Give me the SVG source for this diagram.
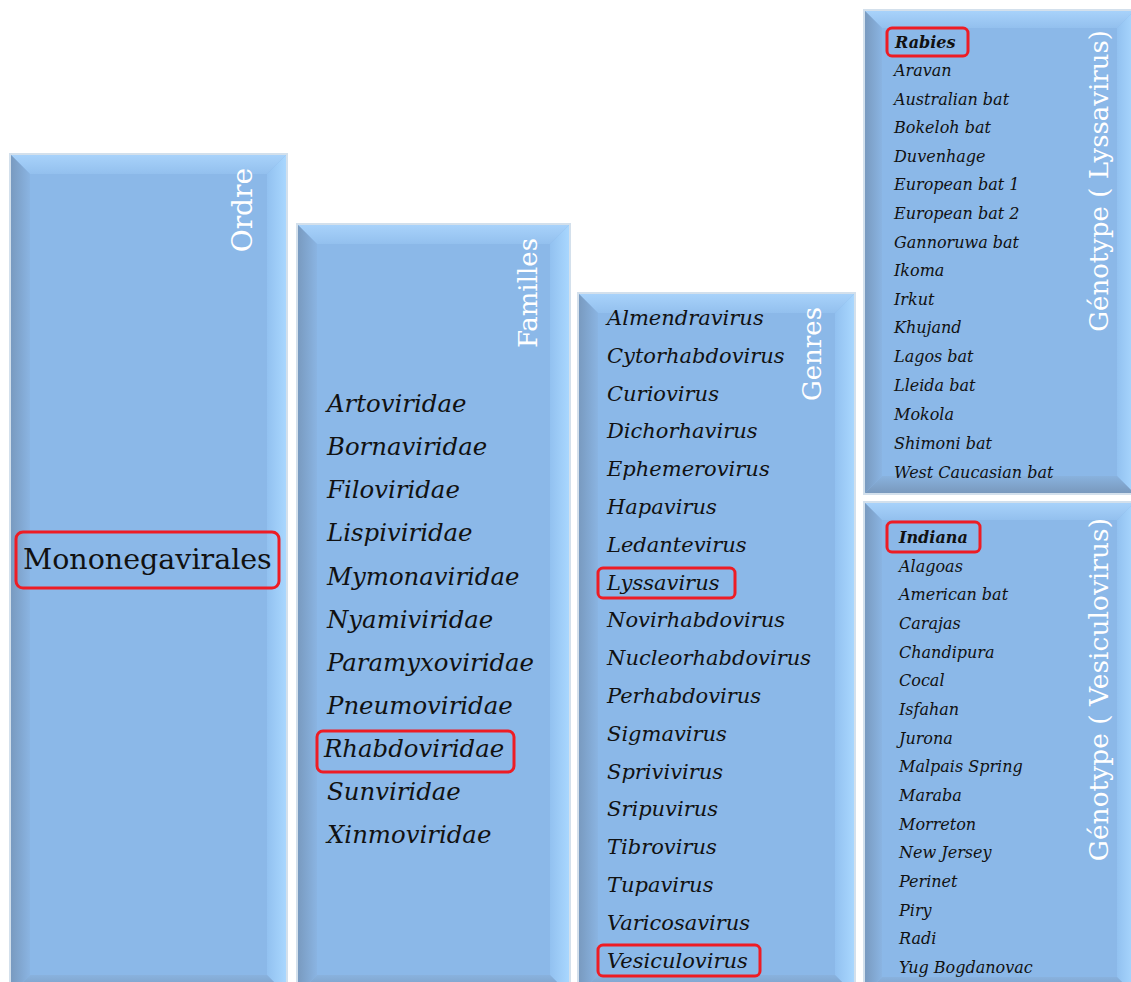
<svg xmlns="http://www.w3.org/2000/svg" width="1131" height="982" viewBox="0 0 1131 982">
<defs>
<linearGradient id="gT" x1="0" y1="0" x2="0" y2="1"><stop offset="0" stop-color="#a9d3fb"/><stop offset="1" stop-color="#93c0ee"/></linearGradient>
<linearGradient id="gL" x1="0" y1="0" x2="1" y2="0"><stop offset="0" stop-color="#7899be"/><stop offset="1" stop-color="#8ab4e2"/></linearGradient>
<linearGradient id="gR" x1="0" y1="0" x2="1" y2="0"><stop offset="0" stop-color="#92c1f0"/><stop offset="1" stop-color="#aad8ff"/></linearGradient>
<linearGradient id="gB" x1="0" y1="0" x2="0" y2="1"><stop offset="0" stop-color="#89b2de"/><stop offset="1" stop-color="#7897bb"/></linearGradient>
</defs>
<style>
.frame{fill:none;stroke:#d3e0ec;stroke-width:2}
.face{fill:#8bb8e8}
.bt{fill:url(#gT)}
.bl{fill:url(#gL)}
.br{fill:url(#gR)}
.bb{fill:url(#gB)}
.title{font-family:"DejaVu Serif","Liberation Serif",serif;font-size:26px;fill:#ffffff;text-anchor:end}
.fam{font-family:"DejaVu Serif","Liberation Serif",serif;font-style:italic;font-size:24.4px;fill:#111111}
.gen{font-family:"DejaVu Serif","Liberation Serif",serif;font-style:italic;font-size:21px;fill:#111111}
.geno{font-family:"DejaVu Serif","Liberation Serif",serif;font-style:italic;font-size:16px;fill:#111111}
.bold{font-weight:bold}
.order{font-family:"DejaVu Serif","Liberation Serif",serif;font-size:28.5px;fill:#111111}
.hl{fill:none;stroke:#ee1c24;stroke-width:3}
</style>
<rect x="0" y="0" width="1131" height="982" fill="#ffffff"/>

<g id="ordre">
<rect class="face" x="10" y="154" width="277" height="841"/>
<polygon class="bt" points="10,154 287,154 267,174 30,174"/>
<polygon class="bl" points="10,154 30,174 30,975 10,995"/>
<polygon class="br" points="287,154 287,995 267,975 267,174"/>
<polygon class="bb" points="10,995 30,975 267,975 287,995"/>
<rect class="frame" x="10" y="154" width="277" height="841"/>
<text class="title" style="font-size:28px" transform="translate(252,168) rotate(-90)">Ordre</text>
<rect class="hl" x="16" y="532" width="263" height="56" rx="7"/>
<text class="order" x="23" y="569">Mononegavirales</text>
</g>

<g id="familles">
<rect class="face" x="297" y="224" width="273" height="771"/>
<polygon class="bt" points="297,224 570,224 550,244 317,244"/>
<polygon class="bl" points="297,224 317,244 317,975 297,995"/>
<polygon class="br" points="570,224 570,995 550,975 550,244"/>
<polygon class="bb" points="297,995 317,975 550,975 570,995"/>
<rect class="frame" x="297" y="224" width="273" height="771"/>
<text class="title" transform="translate(537,238) rotate(-90)">Familles</text>
<text class="fam" x="327" y="412">Artoviridae</text>
<text class="fam" x="327" y="455">Bornaviridae</text>
<text class="fam" x="327" y="498">Filoviridae</text>
<text class="fam" x="327" y="541">Lispiviridae</text>
<text class="fam" x="327" y="585">Mymonaviridae</text>
<text class="fam" x="327" y="628">Nyamiviridae</text>
<text class="fam" x="327" y="671">Paramyxoviridae</text>
<text class="fam" x="327" y="714">Pneumoviridae</text>
<rect class="hl" x="317" y="731" width="197" height="41" rx="6"/>
<text class="fam" x="324" y="757">Rhabdoviridae</text>
<text class="fam" x="327" y="800">Sunviridae</text>
<text class="fam" x="327" y="843">Xinmoviridae</text>
</g>

<g id="genres">
<rect class="face" x="578" y="293" width="277" height="702"/>
<polygon class="bt" points="578,293 855,293 835,313 598,313"/>
<polygon class="bl" points="578,293 598,313 598,975 578,995"/>
<polygon class="br" points="855,293 855,995 835,975 835,313"/>
<polygon class="bb" points="578,995 598,975 835,975 855,995"/>
<rect class="frame" x="578" y="293" width="277" height="702"/>
<text class="title" transform="translate(821,307) rotate(-90)">Genres</text>
<text class="gen" x="607" y="325">Almendravirus</text>
<text class="gen" x="607" y="363">Cytorhabdovirus</text>
<text class="gen" x="607" y="401">Curiovirus</text>
<text class="gen" x="607" y="438">Dichorhavirus</text>
<text class="gen" x="607" y="476">Ephemerovirus</text>
<text class="gen" x="607" y="514">Hapavirus</text>
<text class="gen" x="607" y="552">Ledantevirus</text>
<rect class="hl" x="598" y="568" width="137" height="30" rx="5"/>
<text class="gen" x="607" y="590">Lyssavirus</text>
<text class="gen" x="607" y="627">Novirhabdovirus</text>
<text class="gen" x="607" y="665">Nucleorhabdovirus</text>
<text class="gen" x="607" y="703">Perhabdovirus</text>
<text class="gen" x="607" y="741">Sigmavirus</text>
<text class="gen" x="607" y="779">Sprivivirus</text>
<text class="gen" x="607" y="816">Sripuvirus</text>
<text class="gen" x="607" y="854">Tibrovirus</text>
<text class="gen" x="607" y="892">Tupavirus</text>
<text class="gen" x="607" y="930">Varicosavirus</text>
<rect class="hl" x="598" y="945" width="162" height="31" rx="5"/>
<text class="gen" x="607" y="968">Vesiculovirus</text>
</g>

<g id="lyssavirus">
<rect class="face" x="864" y="10" width="271" height="484"/>
<polygon class="bt" points="864,10 1135,10 1117,28 882,28"/>
<polygon class="bl" points="864,10 882,28 882,476 864,494"/>
<polygon class="br" points="1135,10 1135,494 1117,476 1117,28"/>
<polygon class="bb" points="864,494 882,476 1117,476 1135,494"/>
<rect class="frame" x="864" y="10" width="271" height="484"/>
<text class="title" transform="translate(1108,30) rotate(-90)">Génotype ( Lyssavirus)</text>
<rect class="hl" x="887" y="28" width="81" height="28" rx="5"/>
<text class="geno bold" x="895" y="48">Rabies</text>
<text class="geno" x="894" y="76">Aravan</text>
<text class="geno" x="894" y="105">Australian bat</text>
<text class="geno" x="894" y="133">Bokeloh bat</text>
<text class="geno" x="894" y="162">Duvenhage</text>
<text class="geno" x="894" y="190">European bat 1</text>
<text class="geno" x="894" y="219">European bat 2</text>
<text class="geno" x="894" y="248">Gannoruwa bat</text>
<text class="geno" x="894" y="276">Ikoma</text>
<text class="geno" x="894" y="305">Irkut</text>
<text class="geno" x="894" y="333">Khujand</text>
<text class="geno" x="894" y="362">Lagos bat</text>
<text class="geno" x="894" y="391">Lleida bat</text>
<text class="geno" x="894" y="420">Mokola</text>
<text class="geno" x="894" y="449">Shimoni bat</text>
<text class="geno" x="894" y="478">West Caucasian bat</text>
</g>

<g id="vesiculovirus">
<rect class="face" x="864" y="502" width="271" height="493"/>
<polygon class="bt" points="864,502 1135,502 1117,520 882,520"/>
<polygon class="bl" points="864,502 882,520 882,977 864,995"/>
<polygon class="br" points="1135,502 1135,995 1117,977 1117,520"/>
<polygon class="bb" points="864,995 882,977 1117,977 1135,995"/>
<rect class="frame" x="864" y="502" width="271" height="493"/>
<text class="title" style="font-size:26.5px" transform="translate(1108,518) rotate(-90)">Génotype ( Vesiculovirus)</text>
<rect class="hl" x="887" y="522" width="93" height="30" rx="5"/>
<text class="geno bold" x="899" y="543">Indiana</text>
<text class="geno" x="899" y="572">Alagoas</text>
<text class="geno" x="899" y="600">American bat</text>
<text class="geno" x="899" y="629">Carajas</text>
<text class="geno" x="899" y="658">Chandipura</text>
<text class="geno" x="899" y="686">Cocal</text>
<text class="geno" x="899" y="715">Isfahan</text>
<text class="geno" x="899" y="744">Jurona</text>
<text class="geno" x="899" y="772">Malpais Spring</text>
<text class="geno" x="899" y="801">Maraba</text>
<text class="geno" x="899" y="830">Morreton</text>
<text class="geno" x="899" y="858">New Jersey</text>
<text class="geno" x="899" y="887">Perinet</text>
<text class="geno" x="899" y="916">Piry</text>
<text class="geno" x="899" y="944">Radi</text>
<text class="geno" x="899" y="973">Yug Bogdanovac</text>
</g>
</svg>
